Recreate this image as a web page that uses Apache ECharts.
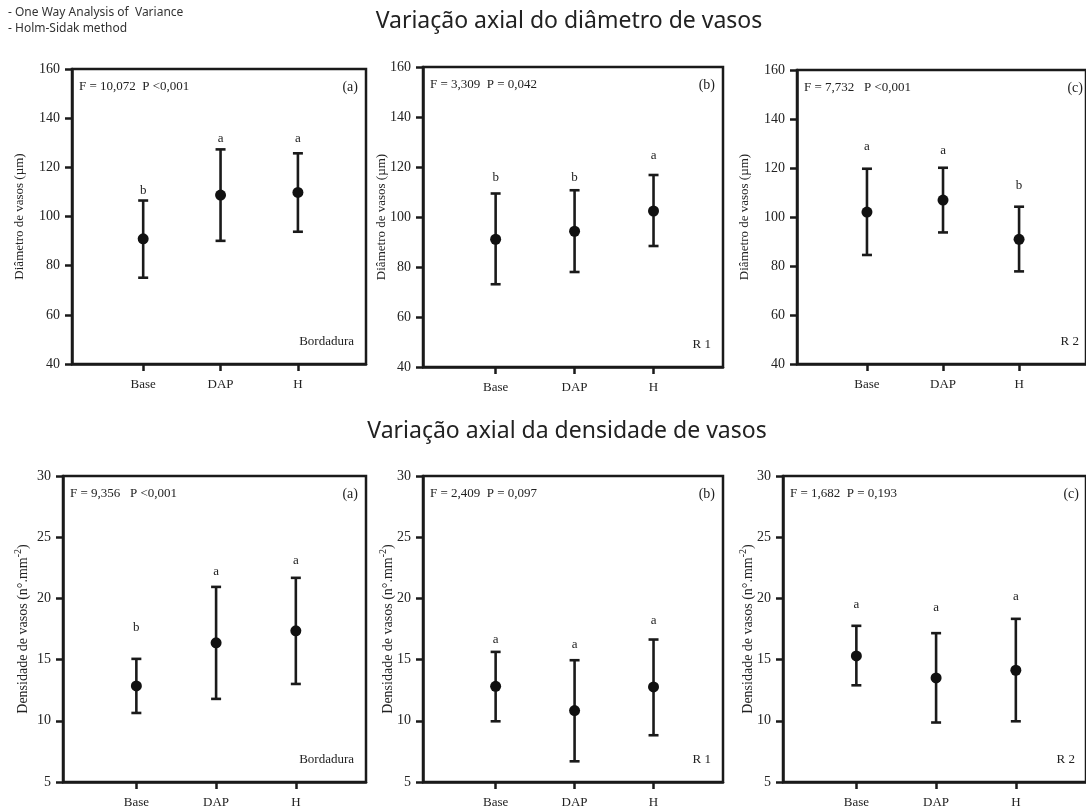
<!DOCTYPE html>
<html>
<head>
<meta charset="utf-8">
<script src="https://cdn.jsdelivr.net/npm/echarts@6/dist/echarts.min.js"></script>
<style>html,body{margin:0;padding:0;background:#fff}#c{width:1086px;height:810px}</style>
</head>
<body>
<div id="c"></div>
<script>
const categories = ['Base', 'DAP', 'H'];

// Diâmetro de vasos (µm)
const diamBordMean = [90.9, 108.7, 109.8];
const diamBordLow = [75.1, 90.1, 93.8];
const diamBordHigh = [106.5, 127.3, 125.7];
const diamBordLetters = ['b', 'a', 'a'];
const diamBordLetterY = [110.5, 131.5, 131.5];

const diamR1Mean = [91.1, 94.3, 102.4];
const diamR1Low = [73.1, 78.0, 88.4];
const diamR1High = [109.4, 110.7, 116.8];
const diamR1Letters = ['b', 'b', 'a'];
const diamR1LetterY = [115.8, 115.8, 124.7];

const diamR2Mean = [102.0, 106.9, 90.9];
const diamR2Low = [84.5, 93.7, 77.8];
const diamR2High = [119.7, 120.1, 104.2];
const diamR2Letters = ['a', 'a', 'b'];
const diamR2LetterY = [128.7, 127.3, 113.0];

// Densidade de vasos (n°.mm-2)
const densBordMean = [12.85, 16.37, 17.35];
const densBordLow = [10.64, 11.79, 13.01];
const densBordHigh = [15.06, 20.94, 21.68];
const densBordLetters = ['b', 'a', 'a'];
const densBordLetterY = [17.6, 22.2, 23.1];

const densR1Mean = [12.82, 10.84, 12.77];
const densR1Low = [9.96, 6.69, 8.82];
const densR1High = [15.63, 14.95, 16.64];
const densR1Letters = ['a', 'a', 'a'];
const densR1LetterY = [16.64, 16.26, 18.2];

const densR2Mean = [15.3, 13.5, 14.13];
const densR2Low = [12.9, 9.86, 9.96];
const densR2High = [17.76, 17.16, 18.33];
const densR2Letters = ['a', 'a', 'a'];
const densR2LetterY = [19.53, 19.26, 20.13];

const diamTicks = [40, 160, 20];
const densTicks = [5, 30, 5];

const statTexts = ['F = 10,072  P <0,001', 'F = 3,309  P = 0,042', 'F = 7,732   P <0,001',
                   'F = 9,356   P <0,001', 'F = 2,409  P = 0,097', 'F = 1,682  P = 0,193'];
const panelTags = ['(a)', '(b)', '(c)', '(a)', '(b)', '(c)'];
const regionTags = ['Bordadura', 'R 1', 'R 2', 'Bordadura', 'R 1', 'R 2'];
const titles = ['Variação axial do diâmetro de vasos', 'Variação axial da densidade de vasos'];
const notes = ['- One Way Analysis of  Variance', '- Holm-Sidak method'];

const panels = [
  {mean: diamBordMean, low: diamBordLow, high: diamBordHigh, letters: diamBordLetters, ly: diamBordLetterY, ticks: diamTicks},
  {mean: diamR1Mean, low: diamR1Low, high: diamR1High, letters: diamR1Letters, ly: diamR1LetterY, ticks: diamTicks},
  {mean: diamR2Mean, low: diamR2Low, high: diamR2High, letters: diamR2Letters, ly: diamR2LetterY, ticks: diamTicks},
  {mean: densBordMean, low: densBordLow, high: densBordHigh, letters: densBordLetters, ly: densBordLetterY, ticks: densTicks},
  {mean: densR1Mean, low: densR1Low, high: densR1High, letters: densR1Letters, ly: densR1LetterY, ticks: densTicks},
  {mean: densR2Mean, low: densR2Low, high: densR2High, letters: densR2Letters, ly: densR2LetterY, ticks: densTicks}
];

// layout (px)
const layout = [
  {left: 72, top: 69, width: 294, height: 295, nameX: 20},
  {left: 423, top: 67, width: 300, height: 300, nameX: 382},
  {left: 797, top: 70, width: 294, height: 294, nameX: 745},
  {left: 63, top: 476, width: 303, height: 306, nameX: 23},
  {left: 423, top: 476, width: 300, height: 306, nameX: 388},
  {left: 783, top: 476, width: 304, height: 306, nameX: 748}
];

const INK = '#1a1a1a';
const SERIF = '"Liberation Serif", "DejaVu Serif", serif';
const SANS = '"Noto Sans", "Open Sans", sans-serif';

const grids = [], xAxes = [], yAxes = [], series = [], graphics = [];

panels.forEach((p, i) => {
  const L = layout[i];
  grids.push({left: L.left, top: L.top, width: L.width, height: L.height, show: true,
              borderColor: INK, borderWidth: 2.5, containLabel: false});
  xAxes.push({
    type: 'value', gridIndex: i, min: -0.92, max: 2.88,
    splitLine: {show: false},
    axisLine: {show: true, onZero: false, lineStyle: {color: INK, width: 2.5}},
    axisTick: {show: true, length: 7, customValues: [0, 1, 2], lineStyle: {color: INK, width: 2.5}},
    axisLabel: {customValues: [0, 1, 2], margin: 14, color: '#222', fontFamily: SERIF, fontSize: 13,
                formatter: v => categories[Math.round(v)]}
  });
  yAxes.push({
    type: 'value', gridIndex: i, min: p.ticks[0], max: p.ticks[1], interval: p.ticks[2],
    splitLine: {show: false},
    axisLine: {show: true, onZero: false, lineStyle: {color: INK, width: 2.5}},
    axisTick: {show: true, length: 7, lineStyle: {color: INK, width: 2.5}},
    axisLabel: {margin: 12, color: '#222', fontFamily: SERIF, fontSize: 14}
  });
  series.push({
    type: 'custom', xAxisIndex: i, yAxisIndex: i,
    data: categories.map((c, k) => [k, p.low[k], p.high[k], p.ly[k]]),
    renderItem: function (params, api) {
      const x = api.value(0);
      const lo = api.coord([x, api.value(1)]);
      const hi = api.coord([x, api.value(2)]);
      const lt = api.coord([x, api.value(3)]);
      const w = 5;
      const st = {stroke: INK, lineWidth: 2.6};
      return {type: 'group', children: [
        {type: 'line', shape: {x1: lo[0], y1: lo[1], x2: hi[0], y2: hi[1]}, style: st},
        {type: 'line', shape: {x1: hi[0] - w, y1: hi[1], x2: hi[0] + w, y2: hi[1]}, style: st},
        {type: 'line', shape: {x1: lo[0] - w, y1: lo[1], x2: lo[0] + w, y2: lo[1]}, style: st},
        {type: 'text', x: lt[0], y: lt[1], style: {text: p.letters[params.dataIndex], align: 'center',
          verticalAlign: 'middle', font: '13px ' + SERIF, fill: '#222'}}
      ]};
    },
    z: 3
  });
  series.push({
    type: 'scatter', xAxisIndex: i, yAxisIndex: i, symbol: 'circle', symbolSize: 11,
    itemStyle: {color: '#111', opacity: 1},
    data: categories.map((c, k) => [k, p.mean[k]]), z: 4
  });
  const right = L.left + L.width, bottom = L.top + L.height;
  graphics.push({type: 'text', x: L.left + 7, y: L.top + 18, style: {text: statTexts[i], font: '13px ' + SERIF,
                 fill: '#222', align: 'left', verticalAlign: 'middle'}});
  graphics.push({type: 'text', x: right - 8, y: L.top + 18, style: {text: panelTags[i], font: '14px ' + SERIF,
                 fill: '#222', align: 'right', verticalAlign: 'middle'}});
  graphics.push({type: 'text', x: right - 12, y: bottom - 22, style: {text: regionTags[i], font: '13px ' + SERIF,
                 fill: '#222', align: 'right', verticalAlign: 'middle'}});
  const nameY = L.top + L.height / 2;
  if (i < 3) {
    graphics.push({type: 'text', x: L.nameX, y: nameY, rotation: Math.PI / 2,
      style: {text: 'Diâmetro de vasos (µm)', font: '13px ' + SERIF, fill: '#222', align: 'center', verticalAlign: 'middle'}});
  } else {
    graphics.push({type: 'text', x: L.nameX, y: nameY, rotation: Math.PI / 2,
      style: {text: 'Densidade de vasos (n°.mm{s|-2})', fill: '#222', align: 'center', verticalAlign: 'middle',
        fontFamily: SERIF, fontSize: 14, lineHeight: 20,
        rich: {s: {fontFamily: SERIF, fontSize: 10, verticalAlign: 'top', lineHeight: 10, fill: '#222'}}}});
  }
});

graphics.push({type: 'text', x: 569, y: 21, style: {text: titles[0], font: '23px ' + SANS, fill: '#222', align: 'center', verticalAlign: 'middle'}});
graphics.push({type: 'text', x: 567, y: 431, style: {text: titles[1], font: '23px ' + SANS, fill: '#222', align: 'center', verticalAlign: 'middle'}});
graphics.push({type: 'text', x: 8, y: 13, style: {text: notes[0], font: '12px ' + SANS, fill: '#333', align: 'left', verticalAlign: 'middle'}});
graphics.push({type: 'text', x: 8, y: 29, style: {text: notes[1], font: '12px ' + SANS, fill: '#333', align: 'left', verticalAlign: 'middle'}});

const chart = echarts.init(document.getElementById('c'), null, {renderer: 'canvas'});
chart.setOption({
  backgroundColor: '#fff',
  animation: false,
  grid: grids, xAxis: xAxes, yAxis: yAxes, series: series,
  graphic: graphics
});
</script>
</body>
</html>
